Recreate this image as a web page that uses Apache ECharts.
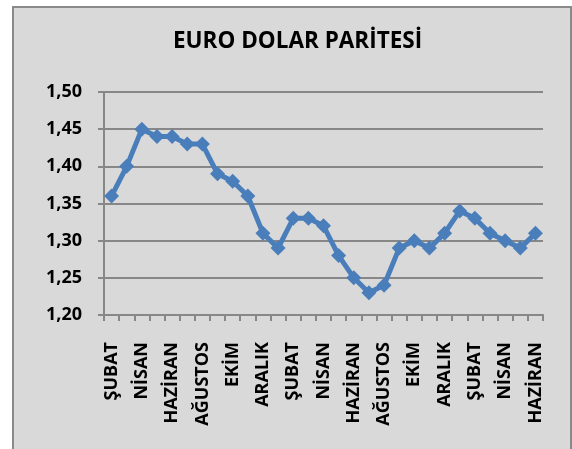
<!DOCTYPE html>
<html>
<head>
<meta charset="utf-8">
<script src="https://cdn.jsdelivr.net/npm/echarts@6/dist/echarts.min.js"></script>
<style>
  html, body { margin: 0; padding: 0; background: #fff; }
  #chart { width: 572px; height: 449px; }
</style>
</head>
<body>
<div id="chart"></div>
<script>
// aylar (her ikinci etiket gösteriliyor)
var months = ['ŞUBAT', 'MART', 'NİSAN', 'MAYIS', 'HAZİRAN', 'TEMMUZ', 'AĞUSTOS', 'EYLÜL', 'EKİM', 'KASIM', 'ARALIK', 'OCAK',
    'ŞUBAT', 'MART', 'NİSAN', 'MAYIS', 'HAZİRAN', 'TEMMUZ', 'AĞUSTOS', 'EYLÜL', 'EKİM', 'KASIM', 'ARALIK', 'OCAK',
    'ŞUBAT', 'MART', 'NİSAN', 'MAYIS', 'HAZİRAN'];
var parity = [1.36, 1.40, 1.45, 1.44, 1.44, 1.43, 1.43, 1.39, 1.38, 1.36, 1.31, 1.29,
    1.33, 1.33, 1.32, 1.28, 1.25, 1.23, 1.24, 1.29, 1.30, 1.29, 1.31, 1.34,
    1.33, 1.31, 1.30, 1.29, 1.31];
var yMin = 1.20, yMax = 1.50, yStep = 0.05;

var font = '"Open Sans", "DejaVu Sans", sans-serif';
var gray = '#878787';

var myChart = echarts.init(document.getElementById('chart'));
var option = {
    backgroundColor: '#fff',
    animation: false,
    graphic: [{
        type: 'rect',
        z: -10,
        shape: { x: 13, y: 7, width: 558, height: 470 },
        style: { fill: '#d9d9d9', stroke: '#8a8a8a', lineWidth: 2 }
    }],
    title: {
        text: 'EURO DOLAR PARİTESİ',
        left: 168,
        top: 25,
        textStyle: { fontFamily: font, fontSize: 22.5, fontWeight: 'bold', color: '#000' }
    },
    grid: { left: 104, right: 29, top: 92, bottom: 134 },
    xAxis: {
        type: 'category',
        data: months,
        boundaryGap: true,
        axisLine: { lineStyle: { color: gray, width: 2 } },
        axisTick: { show: true, length: 6, interval: 0, lineStyle: { color: gray, width: 2 } },
        axisLabel: {
            interval: 1,
            rotate: 90,
            margin: 27,
            fontFamily: font,
            fontSize: 18,
            fontWeight: 'bold',
            color: '#000'
        },
        splitLine: { show: false }
    },
    yAxis: {
        type: 'value',
        min: yMin,
        max: yMax,
        interval: yStep,
        axisLine: { show: true, lineStyle: { color: gray, width: 2 } },
        axisTick: { show: true, length: 6, lineStyle: { color: gray, width: 2 } },
        axisLabel: {
            margin: 22,
            fontFamily: font,
            fontSize: 18,
            fontWeight: 'bold',
            color: '#000',
            formatter: function (v) { return v.toFixed(2).replace('.', ','); }
        },
        splitLine: { show: true, lineStyle: { color: gray, width: 2 } }
    },
    series: [{
        type: 'line',
        data: parity,
        symbol: 'diamond',
        symbolSize: 15,
        showAllSymbol: true,
        lineStyle: { color: '#4a7ebb', width: 5 },
        itemStyle: { color: '#4a7ebb' }
    }]
};
myChart.setOption(option);
</script>
</body>
</html>
